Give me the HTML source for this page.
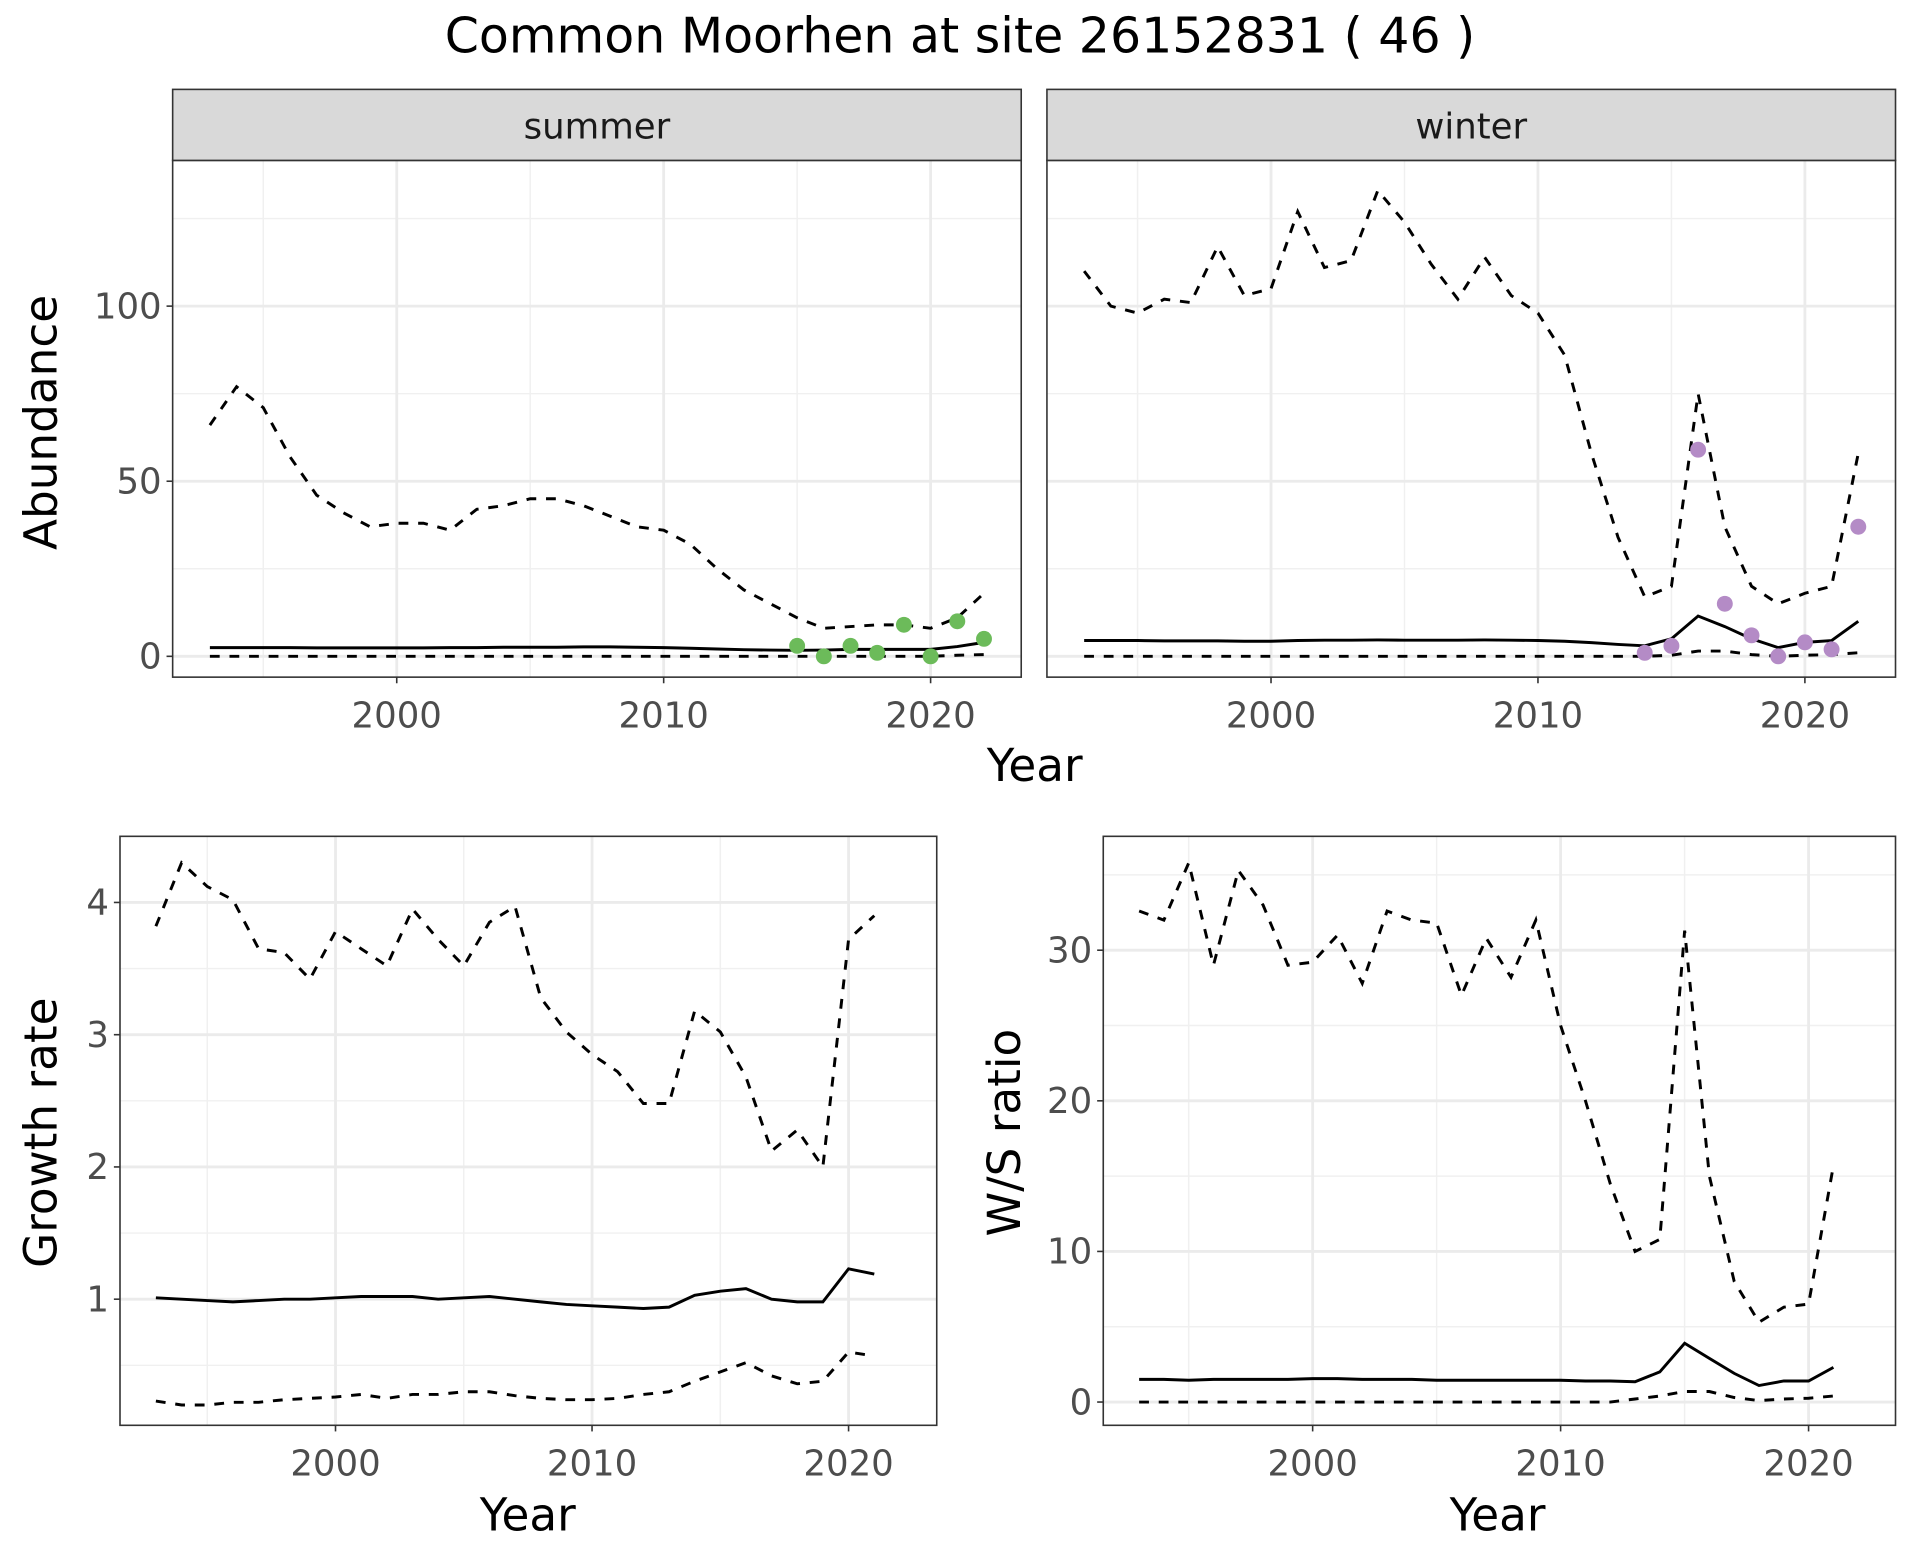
<!DOCTYPE html>
<html><head><meta charset="utf-8"><style>
html,body{margin:0;padding:0;background:#fff;}
svg{display:block;font-family:"DejaVu Sans","Liberation Sans",sans-serif;}
</style></head><body>
<svg id="chart" width="1920" height="1560" viewBox="0 0 1568 1274" preserveAspectRatio="none" xmlns="http://www.w3.org/2000/svg">
<rect width="1568" height="1274" fill="#fff"/>
<text x="784" y="43" font-size="40" text-anchor="middle" fill="#000">Common Moorhen at site 26152831 ( 46 )</text>
</svg>
<script>
const yearsA = [1993,1994,1995,1996,1997,1998,1999,2000,2001,2002,2003,2004,2005,2006,2007,2008,2009,2010,2011,2012,2013,2014,2015,2016,2017,2018,2019,2020,2021,2022];
const summerUpper = [66,77,71,57,46,41,37,38,38,36,42,43,45,45,43,40,37,36,32,25,19,15,11,8,8.5,9,9,8,11,18];
const summerMean = [2.5,2.5,2.5,2.5,2.4,2.4,2.4,2.4,2.4,2.5,2.5,2.6,2.6,2.6,2.7,2.7,2.6,2.5,2.3,2.1,1.9,1.8,1.7,1.8,2,2,2,2,2.8,4];
const summerLower = [0,0,0,0,0,0,0,0,0,0,0,0,0,0,0,0,0,0,0,0,0,0,0,0,0,0,0,0,0.3,0.5];
const summerPtYears = [2015,2016,2017,2018,2019,2020,2021,2022];
const summerPts = [3,0,3,1,9,0,10,5];
const winterUpper = [110,100,98,102,101,117,103,105,127,111,113,133,124,112,102,114,103,98,86,58,34,17,20,75,37,20,15,18,20,58];
const winterMean = [4.5,4.5,4.5,4.4,4.4,4.4,4.3,4.3,4.5,4.6,4.6,4.7,4.6,4.6,4.6,4.7,4.6,4.5,4.3,3.9,3.4,3,5,11.5,8.5,5,2.5,4,4.5,10];
const winterLower = [0,0,0,0,0,0,0,0,0,0,0,0,0,0,0,0,0,0,0,0,0,0,0.3,1.5,1.5,0.5,0,0.3,0.5,1];
const winterPtYears = [2014,2015,2016,2017,2018,2019,2020,2021,2022];
const winterPts = [1,3,59,15,6,0,4,2,37];
const yearsB = [1993,1994,1995,1996,1997,1998,1999,2000,2001,2002,2003,2004,2005,2006,2007,2008,2009,2010,2011,2012,2013,2014,2015,2016,2017,2018,2019,2020,2021];
const growthUpper = [3.82,4.3,4.12,4.02,3.65,3.62,3.42,3.78,3.65,3.52,3.95,3.72,3.52,3.85,3.97,3.28,3.02,2.85,2.72,2.48,2.48,3.18,3.02,2.68,2.12,2.28,2.0,3.72,3.9];
const growthMean = [1.01,1.0,0.99,0.98,0.99,1.0,1.0,1.01,1.02,1.02,1.02,1.0,1.01,1.02,1.0,0.98,0.96,0.95,0.94,0.93,0.94,1.03,1.06,1.08,1.0,0.98,0.98,1.23,1.19];
const growthLower = [0.23,0.2,0.2,0.22,0.22,0.24,0.25,0.26,0.28,0.25,0.28,0.28,0.3,0.3,0.27,0.25,0.24,0.24,0.25,0.28,0.3,0.38,0.45,0.52,0.42,0.36,0.38,0.6,0.57];
const ratioUpper = [32.6,32,35.8,29,35.3,33,29,29.2,31,27.8,32.6,32,31.8,27,30.8,28.2,32,25,20,14.5,10,10.8,31.3,15,8,5.3,6.3,6.5,15.7];
const ratioMean = [1.5,1.5,1.45,1.5,1.5,1.5,1.5,1.55,1.55,1.5,1.5,1.5,1.45,1.45,1.45,1.45,1.45,1.45,1.4,1.4,1.35,2,3.9,2.9,1.9,1.1,1.4,1.4,2.3];
const ratioLower = [0,0,0,0,0,0,0,0,0,0,0,0,0,0,0,0,0,0,0,0,0.2,0.4,0.7,0.7,0.3,0.1,0.2,0.25,0.4];
const xTicks = [2000,2010,2020];
const xMinor = [1995,2005,2015];
const abTicks = [0,50,100];
const abMinor = [25,75,125];
const grTicks = [1,2,3,4];
const grMinor = [0.5,1.5,2.5,3.5];
const raTicks = [0,10,20,30];
const raMinor = [5,15,25,35];

const NS = 'http://www.w3.org/2000/svg';
const svg = document.getElementById('chart');
function el(tag, attrs, parent){ const e=document.createElementNS(NS,tag); for(const k in attrs) e.setAttribute(k,attrs[k]); (parent||svg).appendChild(e); return e; }

function panel(cfg){
  const g = el('g',{});
  
  
  const sx = v => cfg.x0 + (v - cfg.xr[0])*(cfg.x1-cfg.x0)/(cfg.xr[1]-cfg.xr[0]);
  const sy = v => cfg.y0v + (v - cfg.yr[0])*(cfg.y1v-cfg.y0v)/(cfg.yr[1]-cfg.yr[0]);
  el('rect',{x:cfg.L,y:cfg.T,width:cfg.R-cfg.L,height:cfg.B-cfg.T,fill:'#fff'},g);
  cfg.yMinor.forEach(v=>{const y=sy(v); if(y>cfg.T&&y<cfg.B) el('line',{x1:cfg.L,x2:cfg.R,y1:y,y2:y,stroke:'#f0f0f0','stroke-width':1.2},g);});
  xMinor.forEach(v=>{const x=sx(v); el('line',{x1:x,x2:x,y1:cfg.T,y2:cfg.B,stroke:'#f0f0f0','stroke-width':1.2},g);});
  cfg.yTicks.forEach(v=>{const y=sy(v); el('line',{x1:cfg.L,x2:cfg.R,y1:y,y2:y,stroke:'#ebebeb','stroke-width':2.3},g);});
  xTicks.forEach(v=>{const x=sx(v); el('line',{x1:x,x2:x,y1:cfg.T,y2:cfg.B,stroke:'#ebebeb','stroke-width':2.3},g);});
  const path=(xs,ys,dash,name)=>{
    const d = ys.map((v,i)=>(i?'L':'M')+sx(xs[i]).toFixed(1)+','+sy(v).toFixed(1)).join('');
    const p = el('path',{d:d,fill:'none',stroke:'#000','stroke-width':2.4,'stroke-dasharray':dash?'8,8':'none'},g);
    
    
  };
  path(cfg.xs,cfg.upper,true,cfg.name+'-upper-line');
  path(cfg.xs,cfg.mean,false,cfg.name+'-mean-line');
  path(cfg.xs,cfg.lower,true,cfg.name+'-lower-line');
  if(cfg.pts){
    cfg.pts.forEach((v,i)=>{
      const c = el('circle',{cx:sx(cfg.ptX[i]),cy:sy(v),r:6.5,fill:cfg.ptCol},g);
      
      
    });
  }
  el('rect',{x:cfg.L,y:cfg.T,width:cfg.R-cfg.L,height:cfg.B-cfg.T,fill:'none',stroke:'#333','stroke-width':1.3},g);
  if(cfg.strip){
    const s = el('rect',{x:cfg.L,y:73,width:cfg.R-cfg.L,height:cfg.T-73,fill:'#d9d9d9',stroke:'#333','stroke-width':1.3},g);
    
    
    const t = el('text',{x:(cfg.L+cfg.R)/2,y:113,'font-size':29,'text-anchor':'middle',fill:'#1a1a1a'},g);
    t.textContent = cfg.strip;
    
    
  }
  xTicks.forEach(v=>{
    const x=sx(v);
    el('line',{x1:x,x2:x,y1:cfg.B,y2:cfg.B+5,stroke:'#333','stroke-width':1.3},g);
    const t = el('text',{x:x,y:cfg.B+41,'font-size':29,'text-anchor':'middle',fill:'#4d4d4d'},g);
    t.textContent = v;
    
    
  });
  if(cfg.showY){
    cfg.yTicks.forEach(v=>{
      const y=sy(v);
      el('line',{x1:cfg.L-5,x2:cfg.L,y1:y,y2:y,stroke:'#333','stroke-width':1.3},g);
      const t = el('text',{x:cfg.L-9,y:y+10,'font-size':29,'text-anchor':'end',fill:'#4d4d4d'},g);
      t.textContent = v;
      
      
    });
  }
  return g;
}

panel({name:'summer-panel',strip:'summer',L:141,R:834,T:131,B:553,x0:324,x1:760,xr:[2000,2020],y0v:536,y1v:250,yr:[0,100],xs:yearsA,upper:summerUpper,mean:summerMean,lower:summerLower,pts:summerPts,ptX:summerPtYears,ptCol:'#6cbb5a',yTicks:abTicks,yMinor:abMinor,showY:true});
panel({name:'winter-panel',strip:'winter',L:855,R:1548,T:131,B:553,x0:1038,x1:1474,xr:[2000,2020],y0v:536,y1v:250,yr:[0,100],xs:yearsA,upper:winterUpper,mean:winterMean,lower:winterLower,pts:winterPts,ptX:winterPtYears,ptCol:'#b48bc6',yTicks:abTicks,yMinor:abMinor,showY:false});
panel({name:'growth-panel',L:98,R:765,T:683,B:1164,x0:274,x1:693,xr:[2000,2020],y0v:1061,y1v:737,yr:[1,4],xs:yearsB,upper:growthUpper,mean:growthMean,lower:growthLower,yTicks:grTicks,yMinor:grMinor,showY:true});
panel({name:'ratio-panel',L:901,R:1548,T:683,B:1164,x0:1072,x1:1477,xr:[2000,2020],y0v:1145,y1v:776,yr:[0,30],xs:yearsB,upper:ratioUpper,mean:ratioMean,lower:ratioLower,yTicks:raTicks,yMinor:raMinor,showY:true});

function label(txt,x,y,rot,name){
  const t = el('text',{x:x,y:y,'font-size':37,'text-anchor':'middle',fill:'#000',transform:rot?`rotate(-90 ${x} ${y})`:''});
  t.textContent = txt;
  
  
}
label('Year',845,638,false,'top-x-axis-title');
label('Abundance',46,345,true,'abundance-axis-title');
label('Year',431,1250,false,'growth-x-axis-title');
label('Growth rate',46,925,true,'growth-axis-title');
label('Year',1223,1250,false,'ratio-x-axis-title');
label('W/S ratio',833,925,true,'ratio-axis-title');
</script>
</body></html>
